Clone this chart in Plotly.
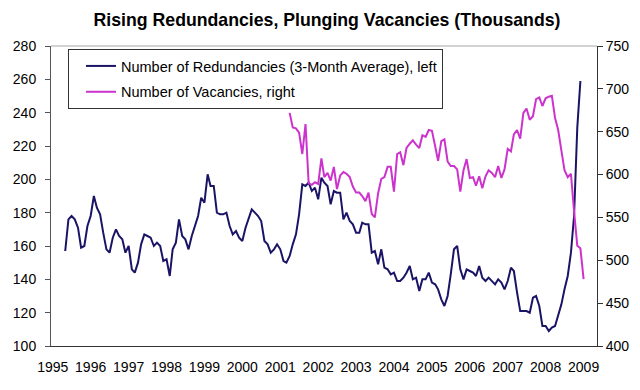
import pandas as pd
import plotly.graph_objects as go

# Monthly data (thousands)
redundancy_start = "1995-05-01"
redundancies = [
    157, 176, 178, 176, 171, 159, 160, 172, 178, 190, 183, 179, 168, 158, 156, 165, 170, 166, 164, 156,
    160, 146, 144, 150, 161, 167, 166, 165, 160, 162, 160, 151, 152, 142, 158, 162, 176, 166, 164, 158,
    166, 172, 178, 189, 186, 203, 196, 196, 180, 179, 179, 180, 172, 167, 169, 165, 163, 171, 177, 182,
    180, 178, 175, 163, 161, 156, 158, 161, 158, 151, 150, 154, 161, 167, 179, 197, 196, 198, 193, 195,
    188, 201, 198, 196,
    185, 193, 192, 192, 176, 180, 175, 173, 168, 168, 174, 173, 173, 156, 157, 149, 158, 147, 146, 143,
    144, 139, 139, 141, 144, 148, 140, 141, 133, 140, 140, 144, 138, 137, 134, 128, 124, 130, 143, 158,
    160, 146, 140, 146, 145,
    144, 142, 148, 141, 139, 141, 139, 137, 140, 138, 134, 139, 147, 145, 132, 121, 121, 121, 120, 129,
    130, 124, 112, 112, 109, 111, 112, 118, 125, 134, 142, 156, 178, 231, 259,
]
vacancy_start = "2001-04-01"
vacancies = [
    672, 655, 654, 649, 624, 659, 590, 588, 591, 589, 619, 597, 602,
    593, 609, 583, 599, 603, 601, 597, 586, 579, 579, 575, 569, 579, 554, 550, 578, 595, 597, 609, 609,
    580, 624, 626, 611, 631, 636, 640, 635, 631, 646, 644, 652, 651, 633, 616, 639, 641, 615, 610, 610,
    606, 580, 605, 618,
    596, 597, 587, 598, 584, 598, 605, 602, 597, 610, 596, 606, 630, 627, 647, 652, 642, 672, 677, 664,
    668, 688, 690, 680, 689, 691, 692, 666, 652, 628, 605, 597, 601, 557, 517, 514, 478,
]
year_ticks = list(range(1995, 2010))
year_labels = [str(y) for y in year_ticks]

red_dates = pd.date_range(redundancy_start, periods=len(redundancies), freq="MS")
vac_dates = pd.date_range(vacancy_start, periods=len(vacancies), freq="MS")

FONT = "Liberation Sans, Arial, sans-serif"
RED_COLOR = "#1a1466"
VAC_COLOR = "#cc33cc"

fig = go.Figure()
fig.add_trace(go.Scatter(
    x=red_dates, y=redundancies, mode="lines",
    name="Number of Redundancies (3-Month Average), left",
    line=dict(color=RED_COLOR, width=2), yaxis="y", legendgroup="a",
))
fig.add_trace(go.Scatter(
    x=vac_dates, y=vacancies, mode="lines",
    name="Number of Vacancies, right",
    line=dict(color=VAC_COLOR, width=2), yaxis="y2", legendgroup="b",
))

fig.update_layout(
    width=640, height=390,
    margin=dict(l=51, r=43, t=46, b=44),
    paper_bgcolor="white", plot_bgcolor="white",
    font=dict(family=FONT, size=14, color="black"),
    title=dict(
        text="<b>Rising Redundancies, Plunging Vacancies (Thousands)</b>",
        x=327 / 640, xanchor="center", y=(390 - 20) / 390, yanchor="middle", yref="container",
        font=dict(family=FONT, size=17.7, color="black"),
    ),
    showlegend=True,
    legend=dict(
        x=(68 - 51) / 546, xanchor="left", y=1 - (49 - 46) / 300, yanchor="top",
        bgcolor="white", bordercolor="#333333", borderwidth=1,
        font=dict(family=FONT, size=14.5, color="black"),
        tracegroupgap=4, indentation=12,
    ),
    xaxis=dict(
        type="date",
        range=["1994-12-15", "2009-05-10"],
        tickvals=[f"{y}-01-01" for y in year_ticks], ticktext=year_labels,
        showgrid=False, zeroline=False,
        showline=True, linecolor="#333333", linewidth=1,
        ticks="", ticklabelstandoff=8,
        tickfont=dict(family=FONT, size=14, color="black"),
    ),
    yaxis=dict(
        range=[100, 280], dtick=20, tick0=100,
        showgrid=False, zeroline=False, showline=True, linecolor="#555555", linewidth=1,
        ticks="outside", ticklen=5, tickcolor="#555555", ticklabelstandoff=6,
        tickfont=dict(family=FONT, size=14, color="black"),
    ),
    yaxis2=dict(
        range=[400, 750], dtick=50, tick0=400,
        overlaying="y", side="right", showgrid=False, zeroline=False,
        showline=True, linecolor="#333333", linewidth=1,
        ticks="outside", ticklen=5, tickcolor="#333333",
        tickfont=dict(family=FONT, size=14, color="black"),
    ),
)

# top border of the plot area (gray line at 280)
fig.add_shape(type="line", xref="paper", yref="paper", x0=0, x1=1, y0=1, y1=1,
              line=dict(color="#a6a6a6", width=1))

fig.write_html("out.html", config={"displayModeBar": False},
               post_script="document.body.style.margin='0';")
